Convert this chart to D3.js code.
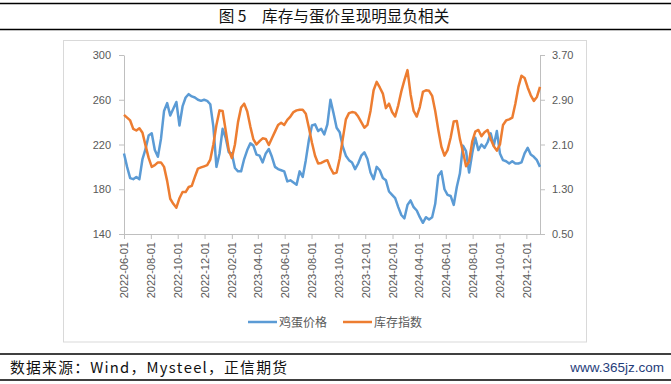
<!DOCTYPE html>
<html>
<head>
<meta charset="utf-8">
<script src="https://cdn.jsdelivr.net/npm/d3@7"></script>
<style>
  body { margin: 0; background: #fff; }
  text { font-family: "Liberation Sans", Arial, sans-serif; }
  .cjk { font-family: "Noto Sans CJK SC", sans-serif; text-spacing-trim: space-all; font-kerning: none; }
</style>
</head>
<body>
<script>
// 库存与蛋价 - weekly readings from 2022-06-01

var width = 671;
var height = 384;

var startDate = new Date(2022, 5, 1);
var endDate = new Date(2025, 0, 1);

// 鸡蛋价格 (left axis)
var eggPrice = [
  212, 200, 190, 189, 191, 189, 207, 216, 228, 230, 215, 209, 225, 250, 257, 246,
  252, 258, 237, 254, 262, 265, 263, 262, 260, 259, 260, 259, 256, 236, 200, 212,
  234, 226, 213, 212, 199, 196, 196, 207, 215, 221, 219, 211, 210, 204, 212, 216,
  209, 200, 198, 197, 196, 187, 188, 186, 184, 196, 191, 206, 224, 237, 238, 232,
  234, 229, 238, 260, 248, 235, 231, 218, 210, 206, 204, 198, 203, 210, 213, 207,
  195, 189, 200, 197, 190, 188, 178, 175, 172, 164, 157, 154, 166, 170, 164, 161,
  155, 150, 155, 153, 155, 167, 192, 196, 180, 175, 174, 166, 182, 194, 219, 214,
  195, 212, 226, 215, 220, 217, 222, 230, 219, 232, 212, 206, 205, 203, 205, 203,
  203, 204, 212, 217, 211, 209, 206, 200
];

// 库存指数 (right axis)
var stockIndex = [
  2.63, 2.58, 2.53, 2.38, 2.35, 2.39, 2.31, 2.08, 1.86, 1.70, 1.73, 1.78, 1.78, 1.70, 1.45, 1.13,
  1.04, 0.97, 1.14, 1.25, 1.25, 1.34, 1.36, 1.52, 1.67, 1.69, 1.71, 1.73, 1.83, 2.10, 2.45, 2.71,
  2.70, 2.35, 2.00, 1.86, 2.10, 2.50, 2.76, 2.83, 2.69, 2.42, 2.19, 2.10, 2.16, 2.21, 2.20, 2.09,
  2.21, 2.33, 2.45, 2.49, 2.45, 2.54, 2.60, 2.68, 2.71, 2.72, 2.72, 2.65, 2.40, 2.13, 1.90, 1.76,
  1.77, 1.80, 1.82, 1.68, 1.58, 1.60, 1.85, 2.20, 2.55, 2.66, 2.68, 2.67, 2.60, 2.50, 2.40, 2.45,
  2.70, 3.07, 3.22, 3.12, 3.01, 2.75, 2.83, 2.68, 2.60, 2.80, 3.05, 3.25, 3.43, 3.00, 2.70, 2.60,
  2.77, 3.04, 3.07, 3.06, 2.97, 2.70, 2.36, 2.06, 1.90, 2.00, 2.22, 2.51, 2.52, 2.20, 1.97, 1.71,
  1.80, 2.15, 2.33, 2.36, 2.25, 2.32, 2.36, 2.20, 2.07, 1.99, 2.10, 2.45, 2.53, 2.55, 2.58, 2.83,
  3.13, 3.33, 3.29, 3.12, 2.98, 2.88, 2.95, 3.13
];

var leftTicks = [140, 180, 220, 260, 300];
var rightTicks = [0.50, 1.30, 2.10, 2.90, 3.70];
var seriesNames = ["鸡蛋价格", "库存指数"];
var seriesColors = ["#5B9BD5", "#ED7D31"];

var plot = { left: 124, right: 540, top: 55, bottom: 234 };

var svg = d3.select("body").append("svg")
  .attr("width", width)
  .attr("height", height);

// title and frame lines
svg.append("line").attr("x1", 0).attr("x2", width).attr("y1", 3.5).attr("y2", 3.5)
  .attr("stroke", "#000").attr("stroke-width", 1.3);
svg.append("line").attr("x1", 0).attr("x2", width).attr("y1", 29.5).attr("y2", 29.5)
  .attr("stroke", "#000").attr("stroke-width", 1.3);
svg.append("text").attr("class", "cjk")
  .attr("x", 334).attr("y", 21.5)
  .attr("text-anchor", "middle")
  .attr("font-size", 15.6)
  .attr("fill", "#111")
  .text("图 5　库存与蛋价呈现明显负相关");

// chart box
svg.append("rect")
  .attr("x", 63.5).attr("y", 40.5)
  .attr("width", 523).attr("height", 301.5)
  .attr("fill", "none").attr("stroke", "#D9D9D9");

var xScale = d3.scaleTime()
  .domain([startDate, endDate])
  .range([plot.left, plot.right]);

var yLeft = d3.scaleLinear()
  .domain([140, 300])
  .range([plot.bottom, plot.top]);

var yRight = d3.scaleLinear()
  .domain([0.5, 3.7])
  .range([plot.bottom, plot.top]);

function dateAt(i) {
  return d3.timeDay.offset(startDate, i * 7);
}

// every two months, starting at 2022-06-01
var xTicks = d3.timeMonth.range(startDate, new Date(2024, 11, 2), 2);

var xAxis = d3.axisBottom(xScale)
  .tickValues(xTicks)
  .tickFormat(d3.timeFormat("%Y-%m-%d"))
  .tickSize(5)
  .tickSizeOuter(0);

var leftAxis = d3.axisLeft(yLeft)
  .tickValues(leftTicks)
  .tickFormat(d3.format("d"))
  .tickSize(5)
  .tickPadding(8)
  .tickSizeOuter(0);

var rightAxis = d3.axisRight(yRight)
  .tickValues(rightTicks)
  .tickFormat(d3.format(".2f"))
  .tickSize(5)
  .tickPadding(7)
  .tickSizeOuter(0);

var gx = svg.append("g")
  .attr("transform", "translate(0," + plot.bottom + ")")
  .call(xAxis);
gx.selectAll("text")
  .attr("text-anchor", "end")
  .attr("dx", "-8")
  .attr("dy", "0.35em")
  .attr("x", 0).attr("y", 0)
  .attr("transform", "rotate(-90)");

var gl = svg.append("g")
  .attr("transform", "translate(" + plot.left + ",0)")
  .call(leftAxis);

var gr = svg.append("g")
  .attr("transform", "translate(" + plot.right + ",0)")
  .call(rightAxis);

[gx, gl, gr].forEach(function(g) {
  g.selectAll("path, line").attr("stroke", "#BFBFBF");
  g.selectAll("text").attr("fill", "#595959").attr("font-size", 11);
});

// lines
var eggLine = d3.line()
  .x(function(d, i) { return xScale(dateAt(i)); })
  .y(function(d) { return yLeft(d); });

var stockLine = d3.line()
  .x(function(d, i) { return xScale(dateAt(i)); })
  .y(function(d) { return yRight(d); });

svg.append("path")
  .datum(eggPrice)
  .attr("d", eggLine)
  .attr("fill", "none")
  .attr("stroke", seriesColors[0])
  .attr("stroke-width", 2.5)
  .attr("stroke-linejoin", "round");

svg.append("path")
  .datum(stockIndex)
  .attr("d", stockLine)
  .attr("fill", "none")
  .attr("stroke", seriesColors[1])
  .attr("stroke-width", 2.5)
  .attr("stroke-linejoin", "round");

// legend
var legendX = [248, 343];
seriesNames.forEach(function(name, i) {
  svg.append("line")
    .attr("x1", legendX[i]).attr("x2", legendX[i] + 29)
    .attr("y1", 322).attr("y2", 322)
    .attr("stroke", seriesColors[i]).attr("stroke-width", 2.5);
  svg.append("text").attr("class", "cjk")
    .attr("x", legendX[i] + 31).attr("y", 326.5)
    .attr("font-size", 12)
    .attr("fill", "#595959")
    .text(name);
});

// footer
svg.append("line").attr("x1", 0).attr("x2", width).attr("y1", 354).attr("y2", 354)
  .attr("stroke", "#000").attr("stroke-width", 1.3);
svg.append("line").attr("x1", 0).attr("x2", width).attr("y1", 380).attr("y2", 380)
  .attr("stroke", "#000").attr("stroke-width", 1.3);
svg.append("text").attr("class", "cjk")
  .attr("x", 10).attr("y", 372.5)
  .attr("font-size", 14.8)
  .attr("fill", "#111")
  .attr("textLength", 277)
  .attr("lengthAdjust", "spacing")
  .text("数据来源：Wind，Mysteel，正信期货");
svg.append("text")
  .attr("x", 664).attr("y", 372)
  .attr("text-anchor", "end")
  .attr("font-family", "DejaVu Sans")
  .attr("font-size", 13.5)
  .attr("fill", "#1F3D7A")
  .text("www.365jz.com");
</script>
</body>
</html>
